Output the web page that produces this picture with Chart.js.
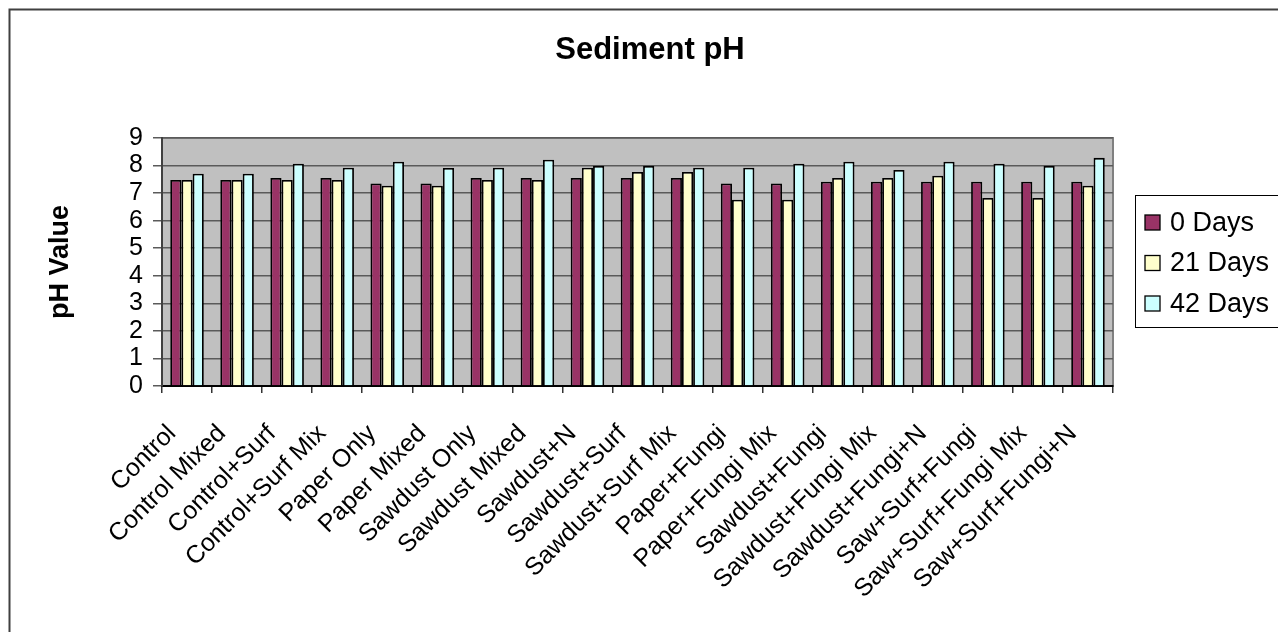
<!DOCTYPE html>
<html>
<head>
<meta charset="utf-8">
<title>Sediment pH</title>
<script src="https://cdn.jsdelivr.net/npm/chart.js@4/dist/chart.umd.min.js"></script>
<style>
  html, body { margin: 0; padding: 0; background: #ffffff; overflow: hidden; }
  #chart { display: block; }
</style>
</head>
<body>
<canvas id="chart" width="1278" height="632"></canvas>
<script>
// Treatments along the x axis
const categories = [
  'Control', 'Control Mixed', 'Control+Surf', 'Control+Surf Mix', 'Paper Only',
  'Paper Mixed', 'Sawdust Only', 'Sawdust Mixed', 'Sawdust+N', 'Sawdust+Surf',
  'Sawdust+Surf Mix', 'Paper+Fungi', 'Paper+Fungi Mix', 'Sawdust+Fungi',
  'Sawdust+Fungi Mix', 'Sawdust+Fungi+N', 'Saw+Surf+Fungi', 'Saw+Surf+Fungi Mix',
  'Saw+Surf+Fungi+N'
];

// Series names
const seriesNames = ['0 Days', '21 Days', '42 Days'];

// pH measured at each sampling time
const ph0Days = [7.48, 7.48, 7.55, 7.55, 7.35, 7.35, 7.55, 7.55, 7.55, 7.55, 7.55, 7.35, 7.35, 7.41, 7.41, 7.41, 7.41, 7.41, 7.41];
const ph21Days = [7.48, 7.48, 7.48, 7.48, 7.27, 7.27, 7.48, 7.48, 7.92, 7.77, 7.77, 6.76, 6.76, 7.55, 7.55, 7.63, 6.82, 6.82, 7.27];
const ph42Days = [7.70, 7.70, 8.07, 7.92, 8.14, 7.91, 7.92, 8.21, 7.99, 7.99, 7.92, 7.92, 8.07, 8.14, 7.84, 8.14, 8.07, 7.99, 8.28];

// y-axis tick values
const phTicks = [0, 1, 2, 3, 4, 5, 6, 7, 8, 9];

const chartTitle = 'Sediment pH';
const seriesColors = ['#993366', '#FFFFCC', '#CCFFFF'];
const FONT = '"Liberation Sans", Arial, sans-serif';

// Grey plot background with a light frame, the outer chart frame and the title
const backdrop = {
  id: 'backdrop',
  beforeDraw(chart) {
    const { ctx, chartArea: a } = chart;
    ctx.save();
    ctx.fillStyle = '#C0C0C0';
    ctx.fillRect(a.left, a.top, a.right - a.left, a.bottom - a.top);
    ctx.strokeStyle = '#808080';
    ctx.lineWidth = 2;
    ctx.strokeRect(a.left, a.top, a.right - a.left, a.bottom - a.top);
    ctx.restore();
  },
  afterDraw(chart) {
    const { ctx } = chart;
    ctx.save();
    ctx.strokeStyle = '#404040';
    ctx.lineWidth = 2;
    ctx.strokeRect(9.5, 9.5, 2000, 2000);
    ctx.fillStyle = '#000000';
    ctx.font = 'bold 31px ' + FONT;
    ctx.textAlign = 'center';
    ctx.textBaseline = 'middle';
    ctx.fillText(chartTitle, 650, 50);
    ctx.restore();
  }
};

// Boxed legend at the right of the plot
const sideLegend = {
  id: 'sideLegend',
  afterDraw(chart) {
    const { ctx } = chart;
    const boxX = 1135, boxY = 195, boxH = 132;
    ctx.save();
    ctx.fillStyle = '#ffffff';
    ctx.fillRect(boxX, boxY, 300, boxH);
    ctx.strokeStyle = '#000000';
    ctx.lineWidth = 1;
    ctx.strokeRect(boxX + 0.5, boxY + 0.5, 300, boxH);
    ctx.font = '27px ' + FONT;
    ctx.textBaseline = 'middle';
    ctx.textAlign = 'left';
    chart.data.datasets.forEach((ds, i) => {
      const cy = 222.5 + i * 40.5;
      ctx.fillStyle = ds.backgroundColor;
      ctx.fillRect(1145, cy - 7.5, 15, 15);
      ctx.strokeStyle = '#000000';
      ctx.lineWidth = 1.3;
      ctx.strokeRect(1145, cy - 7.5, 15, 15);
      ctx.fillStyle = '#000000';
      ctx.fillText(ds.label, 1170, cy + 1);
    });
    ctx.restore();
  }
};

const seriesValues = [ph0Days, ph21Days, ph42Days];

new Chart(document.getElementById('chart'), {
  type: 'bar',
  data: {
    labels: categories,
    datasets: seriesNames.map((name, i) => ({
      label: name,
      data: seriesValues[i],
      backgroundColor: seriesColors[i],
      borderColor: '#000000',
      borderWidth: 1.8,
      barPercentage: 1.0,
      categoryPercentage: 0.67
    }))
  },
  options: {
    responsive: false,
    animation: false,
    devicePixelRatio: 1,
    layout: { padding: { left: 0, right: 165, top: 138, bottom: 0 } },
    plugins: {
      legend: { display: false },
      tooltip: { enabled: false },
      title: { display: false }
    },
    scales: {
      x: {
        offset: true,
        grid: { offset: true, drawOnChartArea: false, drawTicks: true, tickLength: 7, color: '#333333', lineWidth: 1.5 },
        border: { display: true, color: '#000000', width: 2 },
        ticks: {
          autoSkip: false,
          maxRotation: 45,
          minRotation: 45,
          padding: 26,
          labelOffset: -15,
          color: '#000000',
          font: { family: FONT, size: 25 }
        },
        afterFit(scale) { scale.height = 246; }
      },
      y: {
        min: 0,
        max: 9,
        afterBuildTicks(scale) { scale.ticks = phTicks.map(v => ({ value: v })); },
        grid: { color: '#5a5a5a', lineWidth: 1.5, tickLength: 9, drawTicks: true },
        border: { display: true, color: '#404040', width: 2 },
        ticks: {
          autoSkip: false,
          padding: 10,
          color: '#000000',
          font: { family: FONT, size: 25 }
        },
        title: {
          display: true,
          text: 'pH Value',
          color: '#000000',
          font: { family: FONT, size: 27, weight: 'bold' },
          padding: { top: 44.5, bottom: 0 }
        },
        afterFit(scale) { scale.width = 162; }
      }
    }
  },
  plugins: [backdrop, sideLegend]
});
</script>
</body>
</html>
